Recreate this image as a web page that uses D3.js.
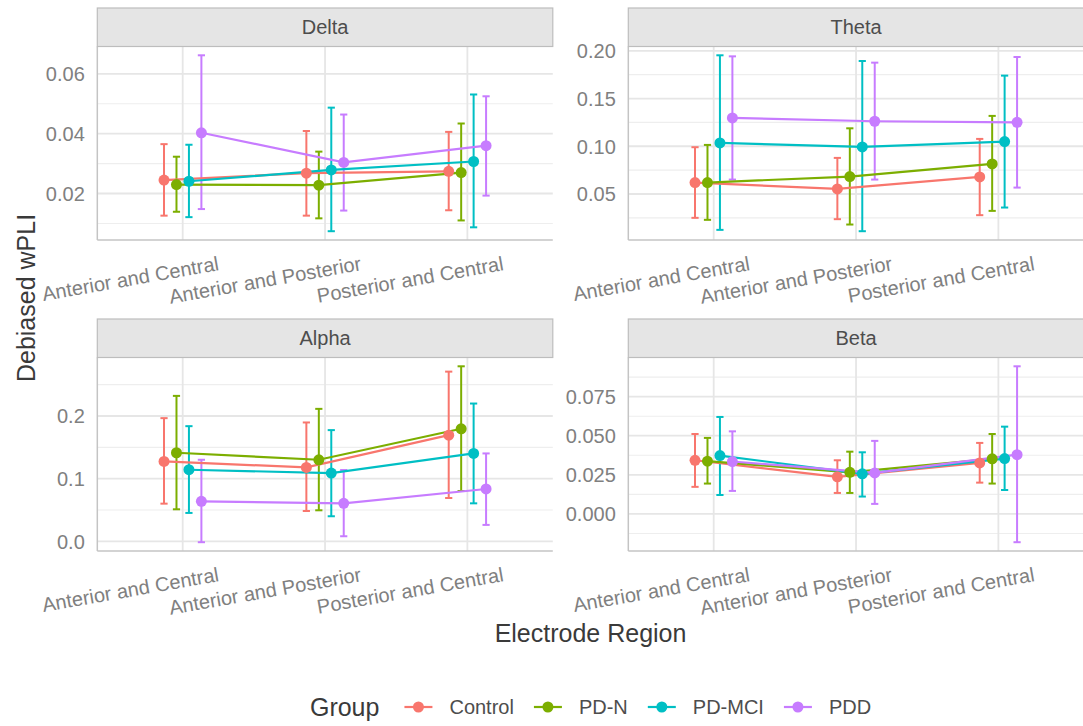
<!DOCTYPE html>
<html>
<head>
<meta charset="utf-8">
<script src="https://cdn.jsdelivr.net/npm/d3@7"></script>
<style>
  body { margin: 0; background: #ffffff; }
  text { font-family: "Liberation Sans", Arial, Helvetica, sans-serif; }
</style>
</head>
<body>
<svg id="chart" width="1083" height="726"></svg>
<script>
// ---- data -------------------------------------------------------------
const regions = ["Anterior and Central", "Anterior and Posterior", "Posterior and Central"];
const groups = ["Control", "PD-N", "PD-MCI", "PDD"];
const groupColors = ["#F8766D", "#7CAE00", "#00BFC4", "#C77CFF"];
const bands = ["Delta", "Theta", "Alpha", "Beta"];

// rows: groups, columns: regions
const deltaMean = [[0.0245, 0.0268, 0.0274], [0.0230, 0.0228, 0.0270], [0.0241, 0.0279, 0.0307], [0.0403, 0.0304, 0.0360]];
const deltaLow  = [[0.0126, 0.0126, 0.0144], [0.0139, 0.0117, 0.0110], [0.0121, 0.0074, 0.0087], [0.0148, 0.0143, 0.0193]];
const deltaHigh = [[0.0365, 0.0409, 0.0406], [0.0323, 0.0340, 0.0434], [0.0363, 0.0487, 0.0531], [0.0662, 0.0464, 0.0525]];

const thetaMean = [[0.0620, 0.0553, 0.0679], [0.0620, 0.0682, 0.0815], [0.1035, 0.0993, 0.1049], [0.1297, 0.1262, 0.1251]];
const thetaLow  = [[0.0250, 0.0236, 0.0278], [0.0229, 0.0180, 0.0323], [0.0124, 0.0110, 0.0358], [0.0651, 0.0651, 0.0567]];
const thetaHigh = [[0.0990, 0.0878, 0.1077], [0.1014, 0.1188, 0.1318], [0.1953, 0.1893, 0.1740], [0.1942, 0.1876, 0.1935]];

const alphaMean = [[0.1276, 0.1180, 0.1695], [0.1414, 0.1302, 0.1796], [0.1143, 0.1090, 0.1403], [0.0639, 0.0607, 0.0836]];
const alphaLow  = [[0.0602, 0.0485, 0.0692], [0.0512, 0.0496, 0.0804], [0.0454, 0.0401, 0.0607], [-0.0013, 0.0082, 0.0263]];
const alphaHigh = [[0.1966, 0.1897, 0.2708], [0.2321, 0.2114, 0.2793], [0.1838, 0.1775, 0.2199], [0.1302, 0.1138, 0.1403]];

const betaMean = [[0.0343, 0.0237, 0.0326], [0.0337, 0.0266, 0.0352], [0.0373, 0.0256, 0.0354], [0.0335, 0.0262, 0.0379]];
const betaLow  = [[0.0173, 0.0134, 0.0200], [0.0194, 0.0134, 0.0194], [0.0121, 0.0111, 0.0153], [0.0147, 0.0064, -0.0181]];
const betaHigh = [[0.0511, 0.0343, 0.0454], [0.0486, 0.0398, 0.0511], [0.0620, 0.0394, 0.0558], [0.0528, 0.0467, 0.0944]];

const deltaTicks = [0.02, 0.04, 0.06];
const thetaTicks = [0.05, 0.10, 0.15, 0.20];
const alphaTicks = [0.0, 0.1, 0.2];
const betaTicks  = [0.000, 0.025, 0.050, 0.075];
const deltaTickLabels = ["0.02", "0.04", "0.06"];
const thetaTickLabels = ["0.05", "0.10", "0.15", "0.20"];
const alphaTickLabels = ["0.0", "0.1", "0.2"];
const betaTickLabels  = ["0.000", "0.025", "0.050", "0.075"];

const yTitle = "Debiased wPLI";
const xTitle = "Electrode Region";
const legendTitle = "Group";

// ---- panel table --------------------------------------------------------
const panels = [
  { band: bands[0], mean: deltaMean, low: deltaLow, high: deltaHigh, ticks: deltaTicks, labels: deltaTickLabels, col: 0, row: 0 },
  { band: bands[1], mean: thetaMean, low: thetaLow, high: thetaHigh, ticks: thetaTicks, labels: thetaTickLabels, col: 1, row: 0 },
  { band: bands[2], mean: alphaMean, low: alphaLow, high: alphaHigh, ticks: alphaTicks, labels: alphaTickLabels, col: 0, row: 1 },
  { band: bands[3], mean: betaMean, low: betaLow, high: betaHigh, ticks: betaTicks, labels: betaTickLabels, col: 1, row: 1 }
];

// ---- layout -------------------------------------------------------------
const colX = [97.3, 628.3];
const rowY = [46.5, 357.5];
const panelW = 455.5;
const panelH = 193.5;
const stripH = 38.5;
const dodgeWidth = 0.35;

const svg = d3.select("#chart");

panels.forEach(p => {
  const x0 = colX[p.col], y0 = rowY[p.row];
  const g = svg.append("g");

  const x = d3.scalePoint().domain(regions).range([x0, x0 + panelW]).padding(0.6);
  const step = x.step();
  const dodge = gi => (gi - (groups.length - 1) / 2) * (dodgeWidth / groups.length) * step;

  const lo = d3.min(p.low.flat()), hi = d3.max(p.high.flat());
  const pad = (hi - lo) * 0.05;
  const y = d3.scaleLinear().domain([lo - pad, hi + pad]).range([y0 + panelH, y0]);
  const [d0, d1] = y.domain();

  // minor gridlines halfway between major ticks
  const tStep = p.ticks[1] - p.ticks[0];
  const minor = [];
  for (let i = -1; i < p.ticks.length; i++) {
    const v = p.ticks[0] + (i + 0.5) * tStep;
    if (v >= d0 && v <= d1) minor.push(v);
  }
  g.selectAll(".minor").data(minor).join("line")
    .attr("x1", x0).attr("x2", x0 + panelW)
    .attr("y1", d => y(d)).attr("y2", d => y(d))
    .attr("stroke", "#eeeeee").attr("stroke-width", 1.1);

  g.selectAll(".majorY").data(p.ticks).join("line")
    .attr("x1", x0).attr("x2", x0 + panelW)
    .attr("y1", d => y(d)).attr("y2", d => y(d))
    .attr("stroke", "#e6e6e6").attr("stroke-width", 1.8);

  g.selectAll(".majorX").data(regions).join("line")
    .attr("x1", d => x(d)).attr("x2", d => x(d))
    .attr("y1", y0).attr("y2", y0 + panelH)
    .attr("stroke", "#e6e6e6").attr("stroke-width", 1.8);

  // axis lines (left and bottom)
  g.append("line").attr("x1", x0).attr("x2", x0).attr("y1", y0).attr("y2", y0 + panelH)
    .attr("stroke", "#c4c4c4").attr("stroke-width", 1.5);
  g.append("line").attr("x1", x0).attr("x2", x0 + panelW).attr("y1", y0 + panelH).attr("y2", y0 + panelH)
    .attr("stroke", "#c4c4c4").attr("stroke-width", 1.5);

  // strip
  g.append("rect").attr("x", x0).attr("y", y0 - stripH).attr("width", panelW).attr("height", stripH)
    .attr("fill", "#e5e5e5").attr("stroke", "#bdbdbd").attr("stroke-width", 1.2);
  g.append("text").attr("x", x0 + panelW / 2).attr("y", y0 - stripH / 2).attr("dy", "0.35em")
    .attr("text-anchor", "middle").attr("font-size", 20).attr("fill", "#4d4d4d").text(p.band);

  // y tick labels
  g.selectAll(".ytl").data(p.ticks).join("text")
    .attr("x", x0 - 12.5).attr("y", d => y(d)).attr("dy", "0.37em")
    .attr("text-anchor", "end").attr("font-size", 20).attr("fill", "#808080")
    .text((d, i) => p.labels[i]);

  // x tick labels, tilted
  g.selectAll(".xtl").data(regions).join("text")
    .attr("transform", d => `translate(${x(d) + 37},${y0 + panelH + 30}) rotate(-10)`)
    .attr("text-anchor", "end").attr("font-size", 20).attr("fill", "#808080")
    .text(d => d);

  // series: error bars, then connecting lines, then points
  const seriesPts = groups.map((grp, gi) => regions.map((r, ri) => ({
    x: x(r) + dodge(gi), m: p.mean[gi][ri], l: p.low[gi][ri], h: p.high[gi][ri]
  })));

  seriesPts.forEach((pts, gi) => {
    const eb = g.append("g").attr("stroke", groupColors[gi]).attr("stroke-width", 2).attr("fill", "none");
    pts.forEach(d => {
      eb.append("line").attr("x1", d.x).attr("x2", d.x).attr("y1", y(d.l)).attr("y2", y(d.h));
      eb.append("line").attr("x1", d.x - 3.6).attr("x2", d.x + 3.6).attr("y1", y(d.l)).attr("y2", y(d.l));
      eb.append("line").attr("x1", d.x - 3.6).attr("x2", d.x + 3.6).attr("y1", y(d.h)).attr("y2", y(d.h));
    });
  });
  seriesPts.forEach((pts, gi) => {
    g.append("path").datum(pts)
      .attr("d", d3.line().x(d => d.x).y(d => y(d.m)))
      .attr("fill", "none").attr("stroke", groupColors[gi]).attr("stroke-width", 2.2);
  });
  seriesPts.forEach((pts, gi) => {
    g.append("g").selectAll("circle").data(pts).join("circle")
      .attr("cx", d => d.x).attr("cy", d => y(d.m)).attr("r", 5.5)
      .attr("fill", groupColors[gi]);
  });
});

// ---- axis titles --------------------------------------------------------
svg.append("text").attr("transform", "translate(35,298) rotate(-90)")
  .attr("text-anchor", "middle").attr("font-size", 25).attr("fill", "#3a3a3a").text(yTitle);
svg.append("text").attr("x", (colX[0] + colX[1] + panelW) / 2).attr("y", 642)
  .attr("text-anchor", "middle").attr("font-size", 25).attr("fill", "#3a3a3a").text(xTitle);

// ---- legend -------------------------------------------------------------
const legendY = 707;
const leg = svg.append("g");
const title = leg.append("text").attr("x", 0).attr("y", legendY).attr("dy", "0.35em")
  .attr("font-size", 25).attr("fill", "#3a3a3a").text(legendTitle);
let cursor = title.node().getComputedTextLength() + 25;
groups.forEach((grp, gi) => {
  const kx = cursor;
  leg.append("line").attr("x1", kx).attr("x2", kx + 28).attr("y1", legendY).attr("y2", legendY)
    .attr("stroke", groupColors[gi]).attr("stroke-width", 2.2);
  leg.append("circle").attr("cx", kx + 14).attr("cy", legendY).attr("r", 5.5).attr("fill", groupColors[gi]);
  const t = leg.append("text").attr("x", kx + 45).attr("y", legendY).attr("dy", "0.35em")
    .attr("font-size", 20).attr("fill", "#4d4d4d").text(grp);
  cursor = kx + 45 + t.node().getComputedTextLength() + 20;
});
const legendW = cursor - 20;
leg.attr("transform", `translate(${(colX[0] + colX[1] + panelW) / 2 - legendW / 2},0)`);
</script>
</body>
</html>
